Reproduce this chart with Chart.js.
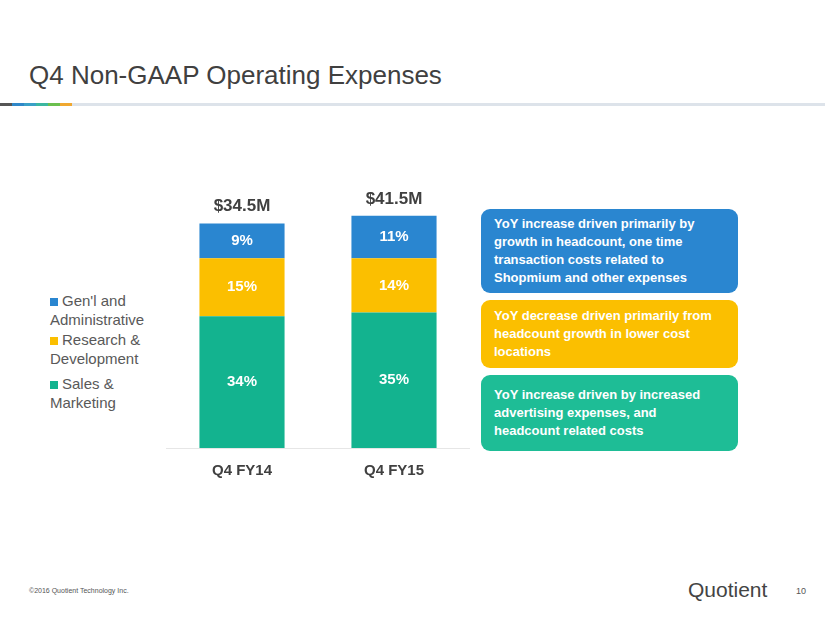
<!DOCTYPE html>
<html><head><meta charset="utf-8">
<script src="https://cdn.jsdelivr.net/npm/chart.js@4"></script>
<style>
body{margin:0;width:825px;height:619px;position:relative;background:#fff;font-family:Arial,"Liberation Sans",sans-serif;overflow:hidden}
#title{position:absolute;left:29px;top:60px;font-size:26px;color:#404040}
#rule{position:absolute;left:0;top:103px;width:825px;height:3px;background:#dde3ea}
.seg{position:absolute;top:103px;height:3px;width:12px}
#wrap{position:absolute;left:166px;top:166px;width:304px;height:320px}
.leg{position:absolute;left:50px;font-size:15px;color:#595959;line-height:19px}
.leg i{display:inline-block;width:8px;height:8px;margin-right:4px}
.box{position:absolute;left:481px;width:257px;border-radius:9px;color:#fff;font-weight:bold;font-size:13px;line-height:18px;padding:0 26px 0 13px;box-sizing:border-box;display:flex;align-items:center}
#foot{position:absolute;left:29px;top:587px;font-size:7px;color:#555}
#logo{position:absolute;left:688px;top:578px;font-size:21px;color:#444}
#pg{position:absolute;left:796px;top:586px;font-size:9px;color:#555}
</style></head><body>
<div id="title">Q4 Non-GAAP Operating Expenses</div>
<div id="rule"></div>
<div class="seg" style="left:0;background:#555"></div>
<div class="seg" style="left:12px;background:#2f87c8"></div>
<div class="seg" style="left:24px;background:#3aa0c6"></div>
<div class="seg" style="left:36px;background:#3cb7a0"></div>
<div class="seg" style="left:48px;background:#6bbf4e"></div>
<div class="seg" style="left:60px;background:#f0a830"></div>
<div id="wrap"><canvas id="c"></canvas></div>
<div class="leg" style="top:291px"><i style="background:#2a86d0"></i>Gen'l and<br>Administrative</div>
<div class="leg" style="top:330px"><i style="background:#fbbf00"></i>Research &amp;<br>Development</div>
<div class="leg" style="top:374px"><i style="background:#13b38f"></i>Sales &amp;<br>Marketing</div>
<div class="box" style="top:209px;height:84px;background:#2a86d0">YoY increase driven primarily by growth in headcount, one time transaction costs related to Shopmium and other expenses</div>
<div class="box" style="top:300px;height:68px;background:#fbbf00">YoY decrease driven primarily from headcount growth in lower cost locations</div>
<div class="box" style="top:375px;height:76px;background:#1ebd96">YoY increase driven by increased advertising expenses, and headcount related costs</div>
<div id="foot">©2016 Quotient Technology Inc.</div>
<div id="logo">Quotient</div>
<div id="pg">10</div>
<script>
const categories = ['Q4 FY14', 'Q4 FY15'];
const salesMarketing = [34, 35];
const researchDev = [15, 14];
const genAdmin = [9, 11];
const totals = ['$34.5M', '$41.5M'];

const totalLabels = {
  id: 'totalLabels',
  afterDatasetsDraw(chart) {
    const ctx = chart.ctx;
    const meta = chart.getDatasetMeta(2);
    ctx.save();
    ctx.font = 'bold 17px Arial';
    ctx.fillStyle = '#404040';
    ctx.textAlign = 'center';
    meta.data.forEach((bar, i) => {
      ctx.fillText(totals[i], bar.x, bar.y - 12);
    });
    ctx.restore();
  }
};

const segLabels = {
  id: 'segLabels',
  afterDatasetsDraw(chart) {
    const ctx = chart.ctx;
    ctx.save();
    ctx.font = 'bold 15px Arial';
    ctx.fillStyle = '#fff';
    ctx.textAlign = 'center';
    ctx.textBaseline = 'middle';
    chart.data.datasets.forEach((ds, d) => {
      chart.getDatasetMeta(d).data.forEach((bar, i) => {
        ctx.fillText(ds.data[i] + '%', bar.x, (bar.y + bar.base) / 2);
      });
    });
    ctx.restore();
  }
};

new Chart(document.getElementById('c'), {
  type: 'bar',
  data: {
    labels: categories,
    datasets: [
      { label: 'Sales & Marketing', data: salesMarketing, backgroundColor: '#13b38f' },
      { label: 'Research & Development', data: researchDev, backgroundColor: '#fbbf00' },
      { label: "Gen'l and Administrative", data: genAdmin, backgroundColor: '#2a86d0' }
    ]
  },
  options: {
    responsive: true,
    maintainAspectRatio: false,
    animation: false,
    layout: { padding: { top: 11 } },
    plugins: { legend: { display: false }, tooltip: { enabled: false } },
    datasets: { bar: { barPercentage: 0.56, categoryPercentage: 1 } },
    scales: {
      x: {
        stacked: true,
        grid: { display: false },
        border: { color: '#e6e6e6' },
        ticks: { color: '#404040', font: { size: 15, weight: 'bold', family: 'Arial' }, padding: 6 }
      },
      y: { stacked: true, display: false, min: 0, max: 70 }
    }
  },
  plugins: [segLabels, totalLabels]
});
</script>
</body></html>
